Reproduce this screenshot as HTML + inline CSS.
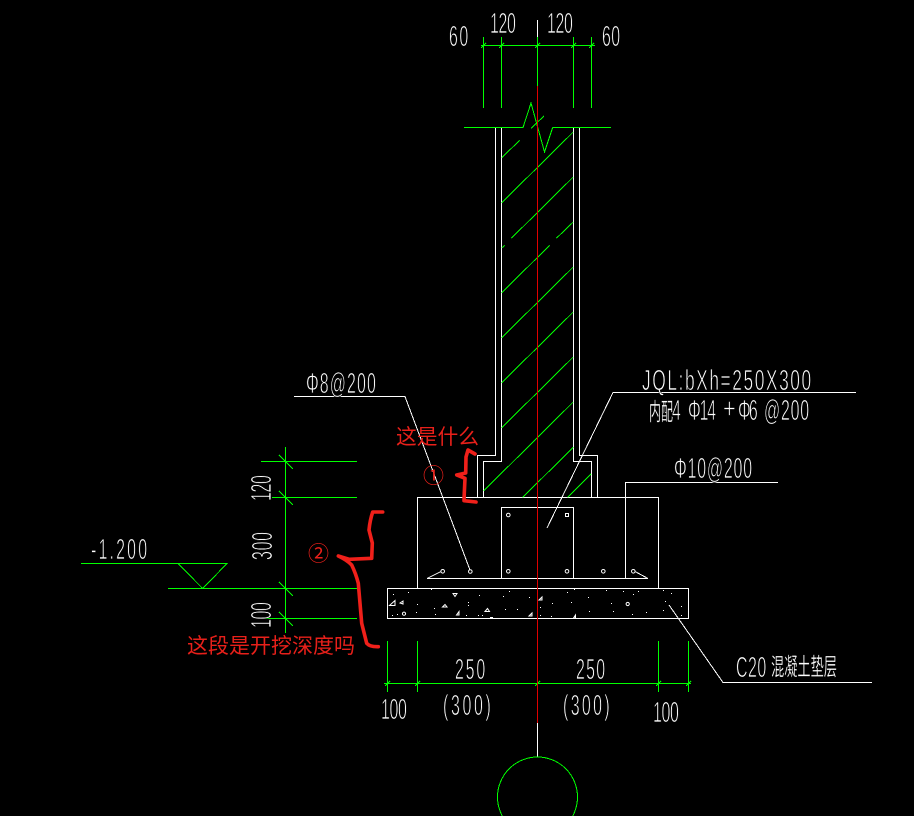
<!DOCTYPE html>
<html><head><meta charset="utf-8"><style>
html,body{margin:0;padding:0;background:#000;width:914px;height:816px;overflow:hidden}
svg{display:block}
.t{font-family:"Liberation Sans",sans-serif;fill:#fff;font-size:29px;stroke:#000;stroke-width:.8px}
.c{font-family:"Liberation Sans","Noto Sans CJK SC",sans-serif;fill:#fff;stroke:#000;stroke-width:.3px}
.r{font-family:"Liberation Sans","Noto Sans CJK SC",sans-serif;fill:#e8201a;font-size:21px}
</style></head><body>
<svg width="914" height="816" viewBox="0 0 914 816" xmlns="http://www.w3.org/2000/svg">
<rect width="914" height="816" fill="#000"/>
<g fill="none" stroke="#fff" stroke-width="1" shape-rendering="crispEdges">
<path d="M537.5 20V86M537.5 723V757"/>
<path d="M495.5 127V455.5H477.5V497.5M501.5 127V461.5H483.5V497.5M573.5 127V461.5H591.5V497.5M579.5 127V455.5H597.5V497.5"/>
<rect x="417.5" y="497.5" width="241" height="91"/>
<path d="M501.5 578.5V507.5H573.5V578.5M427 578.5H648M427 578.5L441 571.5M648 578.5L635 571.5M625.5 578.5V482.5H778"/>
<rect x="387.5" y="588.5" width="301" height="30"/>
<path d="M294 396.5H405L470 570M856 392.5H613L547 528M669 605L723 682.5H872"/>
</g>
<g fill="none" stroke="#fff" stroke-width="1">
<circle cx="442.7" cy="571.3" r="1.8"/><circle cx="470.3" cy="571.5" r="1.8"/><circle cx="508.3" cy="515" r="1.8"/><rect x="565.5" y="513.5" width="3" height="3"/><circle cx="508.3" cy="571.3" r="1.8"/><circle cx="567" cy="571.3" r="1.8"/><circle cx="603.3" cy="571.3" r="1.8"/><circle cx="633.3" cy="571.3" r="1.8"/>
<path d="M389.5 605.5L395 600.5V605.5ZM400 603L403 601V604ZM453 593.5H457L455 596.5ZM442.5 607L445 604.5L447 607ZM456.5 615L459 611.5V615ZM485 611.5L487.5 608.5L489.5 611.5ZM529 616L532 613V616ZM539 600L542 597V600ZM573.5 618L575.5 615V618Z"/>
<circle cx="627.7" cy="604" r="1.6"/><circle cx="404" cy="613.7" r="1.6"/>
</g>
<path fill="#fff" d="M393 594h1v1h-1zM408 592h1v1h-1zM431 589h1v1h-1zM479 595h1v1h-1zM503 596h1v1h-1zM509 591h1v1h-1zM529 597h1v1h-1zM567 592h1v1h-1zM574 589h1v1h-1zM588 597h1v1h-1zM606 590h1v1h-1zM623 591h1v1h-1zM633 594h1v1h-1zM638 591h1v1h-1zM663 590h1v1h-1zM671 593h1v1h-1zM417 604h1v1h-1zM468 602h1v1h-1zM468 605h1v1h-1zM552 603h1v1h-1zM571 602h1v1h-1zM611 603h1v1h-1zM665 601h1v1h-1zM681 606h1v1h-1zM434 608h1v1h-1zM505 609h1v1h-1zM517 609h1v1h-1zM540 607h1v1h-1zM589 611h1v1h-1zM613 611h1v1h-1zM646 612h1v1h-1zM663 610h1v1h-1zM681 615h1v1h-1zM392 615h1v1h-1zM397 614h1v1h-1zM416 612h1v1h-1zM435 614h1v1h-1zM466 615h1v1h-1zM478 615h1v1h-1zM482 615h1v1h-1zM551 616h1v1h-1zM632 614h1v1h-1zM540 615h1v1h-1zM490 617h3v1h-3z"/>
<g fill="none" stroke="#0f0" stroke-width="1" shape-rendering="crispEdges">
<path d="M483.5 37V108M501.5 37V108M537.5 37V86M573.5 37V108M591.5 37V108M481 45.5H595"/>
<path d="M481 48L486 43M499 48L504 43M535 48L540 43M571 48L576 43M589 48L594 43"/>
<path d="M464 127.5H523L531 103L544.5 152L552.7 127.5H611"/>
<path d="M501.7 157.7L519.7 140.3M501.7 202.7L573.3 132M511.3 238.3L573.3 177M501.7 248L504.7 245.3M501.7 292.7L549.7 245.3M556.3 238.3L573.3 222M501.7 337.7L573.3 267M501.7 382.7L573.3 312M501.7 427.7L573.3 357M483.5 491L573.3 402M522.7 497.3L573.3 447.3M567.7 497.3L591 474M531 128.3L544 116"/>
<path d="M285.5 447V633M261 461.5H357M272 497.5H357M168 588.5H358M261 618.5H357M81 563.5H227L202.7 588.5L178 563.5"/>
<path d="M279 455L293 469M279 491L293 505M279 582L293 596M279 612L293 626"/>
<path d="M387.5 641V692M417.5 641V692M658.5 641V692M688.5 641V692M384 683.5H691"/>
<path d="M385 686L390 681M415 686L420 681M535 686L540 681M656 686L661 681M686 686L691 681"/>
<circle cx="537.5" cy="797" r="40"/>
</g>
<path d="M537.5 86V723" stroke="#e00000" stroke-width="1" fill="none" shape-rendering="crispEdges"/>
<g fill="none" stroke="#f0201a" stroke-width="3.6" stroke-linejoin="round" stroke-linecap="round">
<path d="M475 454L468 450L466 457L465.7 473L456.7 475L465 478.3L464.3 493L464 500.7L476 502"/>
<path d="M382.7 512H372.7Q370 520 369 530L372.3 543L371.7 558.3L349.3 559.3L338.3 556Q347 560 351.7 565Q356 574 358.3 583.3L361.7 623.3L366.7 643.3Q370 647 378.3 646.7"/>
</g>
<text class="t" transform="translate(449 46) scale(.55 1)" textLength="35" lengthAdjust="spacing">60</text>
<text class="t" transform="translate(490 33) scale(.55 1)" textLength="47" lengthAdjust="spacing">120</text>
<text class="t" transform="translate(547 33) scale(.55 1)" textLength="47" lengthAdjust="spacing">120</text>
<text class="t" transform="translate(602 46) scale(.55 1)" textLength="33" lengthAdjust="spacing">60</text>
<text class="t" transform="translate(306 393) scale(.55 1)" textLength="127" lengthAdjust="spacing">Φ8@200</text>
<text class="t" transform="translate(642 390) scale(.6 1)" textLength="282" lengthAdjust="spacing">JQL:bXh=250X300</text>
<text class="c" transform="translate(649 420) scale(.5 1)" font-size="24">内配</text>
<text class="t" transform="translate(672 420) scale(.55 1)">4</text>
<text class="t" transform="translate(688 420) scale(.55 1)" textLength="51" lengthAdjust="spacing">Φ14</text>
<text class="t" transform="translate(723 418) scale(.75 1)">+</text>
<text class="t" transform="translate(738 420) scale(.55 1)" textLength="36" lengthAdjust="spacing">Φ6</text>
<text class="t" transform="translate(764 420) scale(.55 1)" textLength="82" lengthAdjust="spacing">@200</text>
<text class="t" transform="translate(674 478) scale(.55 1)" textLength="142" lengthAdjust="spacing">Φ10@200</text>
<text class="t" transform="translate(91 559) scale(.55 1)" textLength="102" lengthAdjust="spacing">-1.200</text>
<text class="t" transform="translate(271 501) rotate(-90) scale(.55 1)" textLength="47" lengthAdjust="spacing">120</text>
<text class="t" transform="translate(272 560) rotate(-90) scale(.55 1)" textLength="51" lengthAdjust="spacing">300</text>
<text class="t" transform="translate(271 628) rotate(-90) scale(.55 1)" textLength="47" lengthAdjust="spacing">100</text>
<text class="t" transform="translate(455 679) scale(.55 1)" textLength="55" lengthAdjust="spacing">250</text>
<text class="t" transform="translate(576 679) scale(.55 1)" textLength="53" lengthAdjust="spacing">250</text>
<text class="t" transform="translate(443 715) scale(.55 1)" textLength="87" lengthAdjust="spacing">(300)</text>
<text class="t" transform="translate(563 715) scale(.55 1)" textLength="85" lengthAdjust="spacing">(300)</text>
<text class="t" transform="translate(381 719) scale(.55 1)" textLength="47" lengthAdjust="spacing">100</text>
<text class="t" transform="translate(653 722) scale(.55 1)" textLength="47" lengthAdjust="spacing">100</text>
<text class="t" transform="translate(736 677) scale(.55 1)" textLength="55" lengthAdjust="spacing">C20</text>
<text class="c" x="771" y="675" font-size="24" textLength="66" lengthAdjust="spacingAndGlyphs">混凝土垫层</text>
<text class="r" x="396" y="444" textLength="83" lengthAdjust="spacingAndGlyphs">这是什么</text>
<text class="r" x="187" y="653" textLength="168" lengthAdjust="spacingAndGlyphs">这段是开挖深度吗</text>
<text class="r" x="423" y="483" font-size="21">①</text>
<text class="r" x="308" y="561" font-size="21">②</text>
</svg>
</body></html>
